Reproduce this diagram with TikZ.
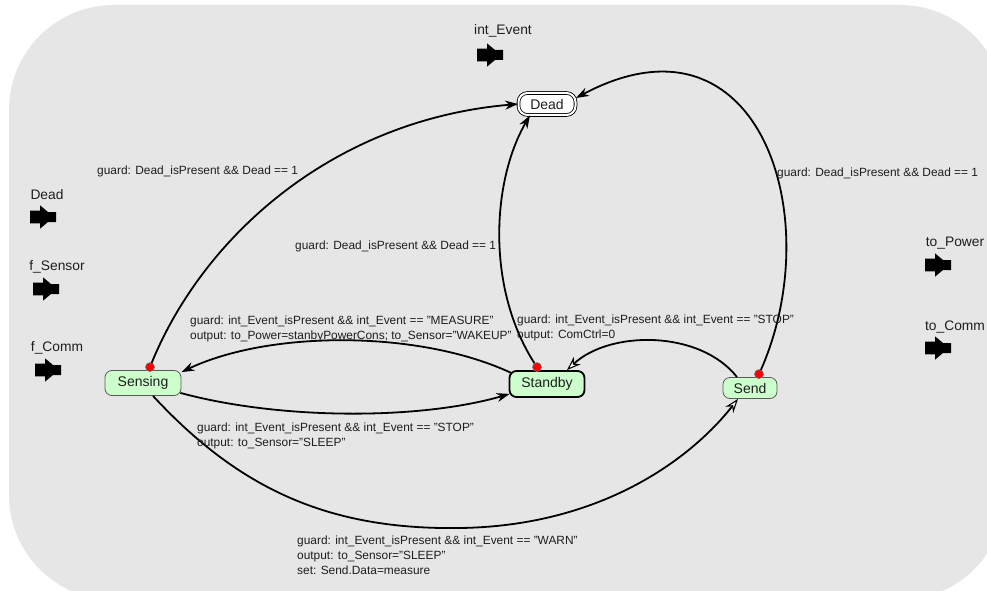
\documentclass[tikz,border=0pt]{standalone}
\usepackage{fontspec}
\setmainfont{Liberation Sans}
\usetikzlibrary{arrows.meta}
\definecolor{bgpanel}{HTML}{E6E6E6}
\definecolor{statefill}{HTML}{CCFFCC}
\definecolor{txt}{HTML}{1E1E1E}

\begin{document}
\begin{tikzpicture}[x=1pt,y=-1pt,
  state/.style={rounded corners=7pt, fill=statefill, draw=black!65, line width=0.8pt,
    inner sep=0pt, font=\fontsize{14}{16}\selectfont, text=txt},
  finalstate/.style={rounded corners=9pt, fill=white, draw=black, line width=0.8pt,
    double=white, double distance=2pt, inner sep=0pt, font=\fontsize{14}{16}\selectfont, text=txt},
  portlabel/.style={inner sep=0pt, font=\fontsize{13.8}{16}\selectfont, text=txt},
  lbl/.style={inner sep=0pt, font=\fontsize{11.9}{15}\selectfont, text=txt, align=left},
  reddot/.style={circle, fill=red, draw=black!55, line width=0.6pt, minimum size=9pt, inner sep=0pt},
  tr/.style={line width=1.8pt, -{Stealth[length=13pt,width=9pt]}},
  tropen/.style={line width=1.8pt, -{Stealth[open,fill=white,line width=1.1pt,length=14pt,width=10pt]}},
  port/.pic={\fill[black] (-13,-6.3) -- (-3,-6.3) -- (-3,-11.7) -- (5,-5) -- (13,-5)
     -- (13,5) -- (5,5) -- (-3,11.7) -- (-3,6.3) -- (-13,6.3) -- cycle;}
]
\useasboundingbox (0,0) rectangle (987,591);

% panel background
\begin{scope}
  \clip (0,0) rectangle (987,591);
  \fill[bgpanel, rounded corners=105pt] (9,5) rectangle (1005,600);
\end{scope}

% ports
\node[portlabel] (pIntEvent) at (503,31) {int\_Event};
\pic (aIntEvent) at (490,55) {port};
\node[portlabel] (pDead) at (47,195) {Dead};
\pic (aDead) at (43,217) {port};
\node[portlabel] (pSensor) at (57,267) {f\_Sensor};
\pic (aSensor) at (46,289) {port};
\node[portlabel] (pComm) at (57,348) {f\_Comm};
\pic (aComm) at (48,370) {port};
\node[portlabel] (pPower) at (955,243) {to\_Power};
\pic (aPower) at (938,265) {port};
\node[portlabel] (pToComm) at (955,327) {to\_Comm};
\pic (aToComm) at (938,348) {port};

% states
\node[finalstate, minimum width=57pt, minimum height=22pt] (dead) at (547,104) {Dead};
\node[state, minimum width=76pt, minimum height=25pt] (sensing) at (143,383) {Sensing};
\node[state, minimum width=75pt, minimum height=26pt, draw=black, line width=1.8pt] (standby) at (547,384) {Standby};
\node[state, minimum width=54pt, minimum height=21pt] (send) at (750,388) {Send};

% source points of preemptive transitions
\coordinate (dotSensing) at ([shift={(7,-3)}]sensing.north);
\coordinate (dotStandby) at ([shift={(-10,-3)}]standby.north);
\coordinate (dotSend) at ([shift={(9,-3)}]send.north);

% transitions
\draw[tr] (dotSensing) .. controls (200,240) and (330,120) .. (dead.west);
\draw[tr] (dotStandby) .. controls (485,290) and (492,180) .. ([xshift=-17pt]dead.south);
\draw[tr] (dotSend) .. controls (830,220) and (760,0) .. ([yshift=6pt]dead.east);
\draw[tr] ([shift={(3,3)}]standby.north west) .. controls (420,330) and (270,330) .. ([yshift=-2pt]sensing.north east);
\draw[tr] ([shift={(-1,-3)}]sensing.south east) .. controls (280,420) and (420,420) .. ([shift={(1,-4)}]standby.south west);
\draw[tropen] ([xshift=-13pt]send.north) .. controls (700,330) and (610,330) .. ([xshift=20pt]standby.north);
\draw[tropen] ([xshift=10pt]sensing.south) .. controls (240,490) and (330,530) .. (460,528)
  .. controls (600,526) and (690,460) .. ([xshift=-12pt]send.south);

\node[reddot] (rdSensing) at (dotSensing) {};
\node[reddot] (rdStandby) at (dotStandby) {};
\node[reddot] (rdSend) at (dotSend) {};

% transition labels
\node[lbl, anchor=base west] (lDeadA) at (97,174.3) {guard: Dead\_isPresent \&\& Dead == 1};
\node[lbl, anchor=base west] (lDeadB) at (295,249) {guard: Dead\_isPresent \&\& Dead == 1};
\node[lbl, anchor=base west] (lDeadC) at (777,176) {guard: Dead\_isPresent \&\& Dead == 1};
\node[lbl, anchor=north west] (lMeasure) at (190,316)
  {guard: int\_Event\_isPresent \&\& int\_Event == "MEASURE"\\
   output: to\_Power=stanbyPowerCons; to\_Sensor="WAKEUP"};
\node[lbl, anchor=north west] (lStopSend) at (517,315)
  {guard: int\_Event\_isPresent \&\& int\_Event == "STOP"\\
   output: ComCtrl=0};
\node[lbl, anchor=north west] (lStopSense) at (197,423)
  {guard: int\_Event\_isPresent \&\& int\_Event == "STOP"\\
   output: to\_Sensor="SLEEP"};
\node[lbl, anchor=north west] (lWarn) at (297,536)
  {guard: int\_Event\_isPresent \&\& int\_Event == "WARN"\\
   output: to\_Sensor="SLEEP"\\
   set: Send.Data=measure};
\end{tikzpicture}
\end{document}
